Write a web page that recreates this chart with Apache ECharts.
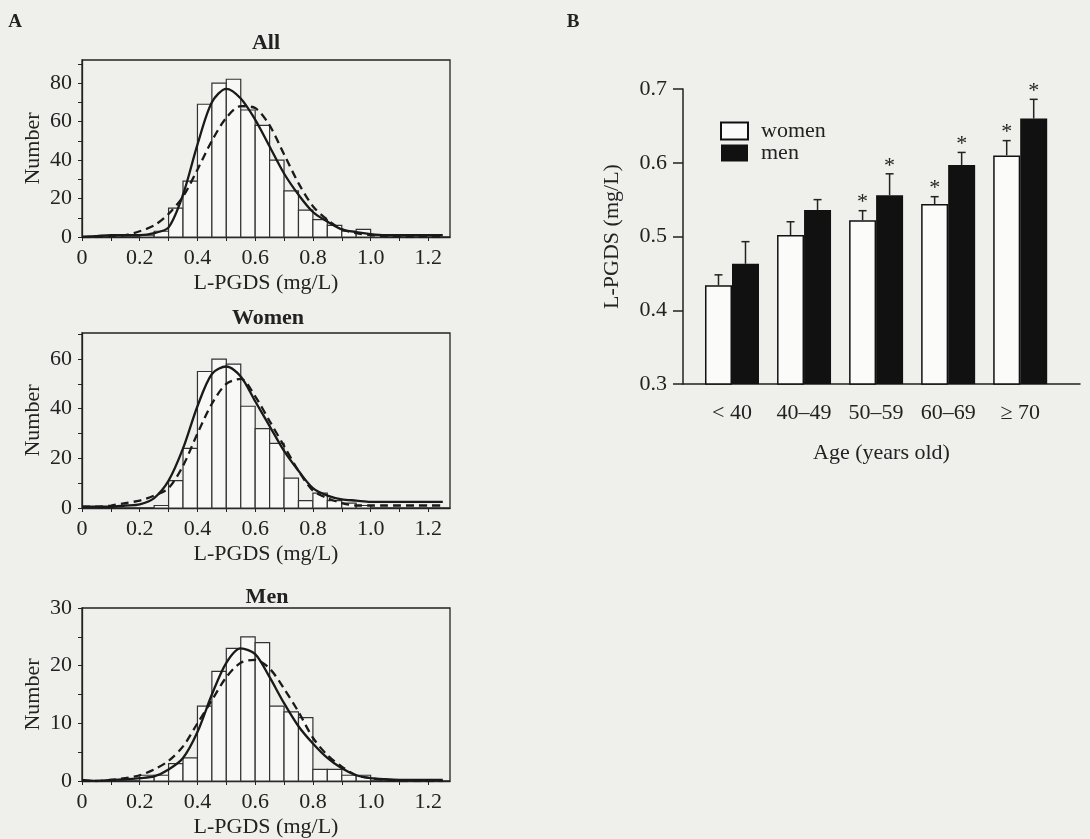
<!DOCTYPE html>
<html>
<head>
<meta charset="utf-8">
<script src="https://cdn.jsdelivr.net/npm/echarts@6/dist/echarts.min.js"></script>
<style>
  html, body { margin: 0; padding: 0; background: #efefeb; }
  #main { width: 1090px; height: 839px; }
</style>
</head>
<body>
<div id="main"></div>
<script>
// ---- panel A : histograms (bin left edges, bin width 0.05) ----
var binLeft = [0.10, 0.15, 0.20, 0.25, 0.30, 0.35, 0.40, 0.45, 0.50, 0.55,
               0.60, 0.65, 0.70, 0.75, 0.80, 0.85, 0.90, 0.95, 1.00];
var allCounts   = [0, 0, 1, 3, 15, 29, 69, 80, 82, 66, 58, 40, 24, 14, 9, 6, 3, 4, 1];
var womenCounts = [0, 0, 0, 1, 11, 24, 55, 60, 58, 41, 32, 26, 12, 3, 6, 3, 2, 1, 0];
var menCounts   = [0, 0, 1, 1, 3, 4, 13, 19, 23, 25, 24, 13, 12, 11, 2, 2, 1, 1, 0];

// fitted curves
var curveX = [0, 0.05, 0.10, 0.15, 0.20, 0.25, 0.30, 0.35, 0.40, 0.45, 0.50, 0.55, 0.60,
              0.65, 0.70, 0.75, 0.80, 0.85, 0.90, 0.95, 1.00, 1.05, 1.10, 1.15, 1.20, 1.25];
var allSolid    = [0, 0.5, 1, 1, 1, 2, 5, 22, 48, 70, 77, 72, 61, 47, 33, 22, 13, 8, 4, 2.5, 1.5, 1, 1, 1, 1, 1];
var allDashed   = [0, 0, 0.5, 1, 3, 6, 12, 21, 35, 50, 62, 68, 67, 58, 43, 28, 16, 9, 4, 2, 1, 0.5, 0, 0, 0, 0];
var womenSolid  = [0.5, 0.5, 0.5, 1, 1.5, 4, 11, 24, 41, 54, 57, 53, 43, 33, 23, 15, 8, 5, 3.5, 3, 2.5, 2.5, 2.5, 2.5, 2.5, 2.5];
var womenDashed = [0.5, 0.5, 1, 2, 3, 5, 8, 17, 30, 42, 50, 52, 45, 35, 25, 15, 7, 4, 2, 1, 1, 1, 1, 1, 1, 1];
var menSolid    = [0.2, 0, 0.2, 0.3, 0.5, 0.8, 2, 4, 8.5, 15, 20.5, 23, 22, 18, 13.5, 9.5, 6.5, 4, 2.2, 1, 0.5, 0.3, 0.2, 0.2, 0.2, 0.2];
var menDashed   = [0, 0, 0.2, 0.5, 1, 2, 3.5, 6, 10, 14, 18, 20.5, 21, 19.5, 16, 12, 7.5, 4.5, 2.5, 1, 0.5, 0.2, 0, 0, 0, 0];

var xTicks  = [0, 0.1, 0.2, 0.3, 0.4, 0.5, 0.6, 0.7, 0.8, 0.9, 1.0, 1.1, 1.2];
var xLabels = [0, 0.2, 0.4, 0.6, 0.8, 1.0, 1.2];
var allYTicks = [0, 10, 20, 30, 40, 50, 60, 70, 80, 90];
var allYLabels = [0, 20, 40, 60, 80];
var womenYTicks = [0, 10, 20, 30, 40, 50, 60, 70];
var womenYLabels = [0, 20, 40, 60];
var menYTicks = [0, 5, 10, 15, 20, 25, 30];
var menYLabels = [0, 10, 20, 30];

// ---- panel B : mean L-PGDS by age ----
var ageGroups = ['< 40', '40–49', '50–59', '60–69', '≥ 70'];
var ageSlots  = [1, 2, 3, 4, 5];
var womenMean = [0.434, 0.502, 0.522, 0.544, 0.610];
var womenSE   = [0.014, 0.018, 0.013, 0.010, 0.020];
var menMean   = [0.463, 0.536, 0.556, 0.597, 0.660];
var menSE     = [0.030, 0.014, 0.029, 0.017, 0.026];
var womenStar = [0, 0, 1, 1, 1];
var menStar   = [0, 0, 1, 1, 1];
var bYTicks   = [0.3, 0.4, 0.5, 0.6, 0.7];

var FONT = '"Liberation Serif", "Times New Roman", serif';
var INK = '#222';

var myChart = echarts.init(document.getElementById('main'), null, { renderer: 'canvas' });

function histX(i, top) {
    return {
        gridIndex: i, type: 'value', min: 0, max: 1.275,
        name: 'L-PGDS (mg/L)', nameLocation: 'middle', nameGap: 35,
        nameTextStyle: { fontFamily: FONT, fontSize: 22, color: INK },
        axisLine: { lineStyle: { color: INK, width: 1.3 } },
        axisTick: { customValues: xTicks, inside: false, length: 4, lineStyle: { color: INK } },
        axisLabel: {
            customValues: xLabels, margin: 10, fontFamily: FONT, fontSize: 22, color: INK,
            formatter: function (v) { return v === 0 ? '0' : v.toFixed(1); }
        },
        splitLine: { show: false }
    };
}
function histY(i, max, ticks, labels) {
    return {
        gridIndex: i, type: 'value', min: 0, max: max,
        name: 'Number', nameLocation: 'middle', nameGap: 38,
        nameTextStyle: { fontFamily: FONT, fontSize: 22, color: INK },
        axisLine: { lineStyle: { color: INK, width: 1.3 } },
        axisTick: { customValues: ticks, inside: false, length: 4, lineStyle: { color: INK } },
        axisLabel: { customValues: labels, margin: 10, fontFamily: FONT, fontSize: 22, color: INK },
        splitLine: { show: false }
    };
}
function histBars(i, counts) {
    return {
        type: 'custom', xAxisIndex: i, yAxisIndex: i, z: 2,
        data: binLeft.map(function (x, k) { return [x, counts[k]]; }),
        encode: { x: 0, y: 1 },
        renderItem: function (params, api) {
            var x0 = api.value(0), h = api.value(1);
            if (!h) return;
            var p0 = api.coord([x0, 0]);
            var p1 = api.coord([x0 + 0.05, h]);
            return {
                type: 'rect',
                shape: { x: p0[0], y: p1[1], width: p1[0] - p0[0], height: p0[1] - p1[1] },
                style: { fill: '#f8f8f6', stroke: '#333', lineWidth: 1.2 }
            };
        }
    };
}
function curve(i, vals, dashed) {
    return {
        type: 'line', xAxisIndex: i, yAxisIndex: i, z: 5,
        data: curveX.map(function (x, k) { return [x, vals[k]]; }),
        showSymbol: false, smooth: 0.3,
        lineStyle: { color: '#1a1a1a', width: 2.3, type: dashed ? [8, 5] : 'solid' }
    };
}
function errSeries(means, se, stars, side) {
    return {
        type: 'custom', xAxisIndex: 3, yAxisIndex: 3, z: 6,
        data: ageSlots.map(function (p, k) { return [p, means[k], means[k] + se[k], side, stars[k]]; }),
        encode: { x: 0, y: 2 },
        renderItem: function (params, api) {
            var b = api.coord([api.value(0), api.value(1)]);
            var t = api.coord([api.value(0), api.value(2)]);
            var x = b[0] + api.value(3) * 13.5;
            var kids = [
                { type: 'line', shape: { x1: x, y1: b[1], x2: x, y2: t[1] }, style: { stroke: INK, lineWidth: 1.5 } },
                { type: 'line', shape: { x1: x - 4, y1: t[1], x2: x + 4, y2: t[1] }, style: { stroke: INK, lineWidth: 1.5 } }
            ];
            if (api.value(4)) {
                kids.push({ type: 'text', x: x, y: t[1] - 8,
                    style: { text: '*', font: '22px ' + FONT, fill: INK, align: 'center', verticalAlign: 'middle' } });
            }
            return { type: 'group', children: kids };
        }
    };
}

var option = {
    backgroundColor: '#efefeb',
    animation: false,
    textStyle: { fontFamily: FONT },
    graphic: [
        { type: 'text', x: 15, y: 22, style: { text: 'A', font: 'bold 19px ' + FONT, fill: INK, align: 'center', verticalAlign: 'middle' } },
        { type: 'text', x: 573, y: 22, style: { text: 'B', font: 'bold 19px ' + FONT, fill: INK, align: 'center', verticalAlign: 'middle' } },
        { type: 'text', x: 266, y: 43, style: { text: 'All', font: 'bold 22px ' + FONT, fill: INK, align: 'center', verticalAlign: 'middle' } },
        { type: 'text', x: 268, y: 318, style: { text: 'Women', font: 'bold 22px ' + FONT, fill: INK, align: 'center', verticalAlign: 'middle' } },
        { type: 'text', x: 267, y: 597, style: { text: 'Men', font: 'bold 22px ' + FONT, fill: INK, align: 'center', verticalAlign: 'middle' } }
    ],
    legend: {
        data: ['women', 'men'], orient: 'vertical', left: 715, top: 115,
        itemWidth: 27, itemHeight: 17, itemGap: 0, icon: 'rect',
        textStyle: { fontFamily: FONT, fontSize: 22, color: INK, lineHeight: 22, padding: [0, 0, 0, 8] }
    },
    grid: [
        { left: 82, top: 60, width: 368, height: 177, show: true, borderColor: INK, borderWidth: 1.3, backgroundColor: 'transparent' },
        { left: 82, top: 333, width: 368, height: 175, show: true, borderColor: INK, borderWidth: 1.3, backgroundColor: 'transparent' },
        { left: 82, top: 608, width: 368, height: 175, show: true, borderColor: INK, borderWidth: 1.3, backgroundColor: 'transparent' },
        { left: 683, right: 10, top: 89, bottom: 455 }
    ],
    xAxis: [
        histX(0), histX(1), histX(2),
        {
            gridIndex: 3, type: 'value', min: 0.32, max: 5.83,
            name: 'Age (years old)', nameLocation: 'middle', nameGap: 58,
            nameTextStyle: { fontFamily: FONT, fontSize: 22, color: INK },
            axisLine: { lineStyle: { color: INK, width: 1.5 } },
            axisTick: { show: false },
            axisLabel: {
                customValues: ageSlots, margin: 18, fontFamily: FONT, fontSize: 22, color: INK,
                formatter: function (v) { return ageGroups[Math.round(v) - 1]; }
            },
            splitLine: { show: false }
        }
    ],
    yAxis: [
        histY(0, 92, allYTicks, allYLabels),
        histY(1, 70.5, womenYTicks, womenYLabels),
        histY(2, 30, menYTicks, menYLabels),
        {
            gridIndex: 3, type: 'value', min: 0.3, max: 0.7,
            name: 'L-PGDS (mg/L)', nameLocation: 'middle', nameGap: 60,
            nameTextStyle: { fontFamily: FONT, fontSize: 22, color: INK },
            axisLine: { show: true, lineStyle: { color: INK, width: 1.5 } },
            axisTick: { show: true, customValues: bYTicks, length: 10, lineStyle: { color: INK, width: 1.5 } },
            axisLabel: {
                customValues: bYTicks, margin: 16, fontFamily: FONT, fontSize: 22, color: INK,
                formatter: function (v) { return v.toFixed(1); }
            },
            splitLine: { show: false }
        }
    ],
    series: [
        histBars(0, allCounts), curve(0, allSolid, false), curve(0, allDashed, true),
        histBars(1, womenCounts), curve(1, womenSolid, false), curve(1, womenDashed, true),
        histBars(2, menCounts), curve(2, menSolid, false), curve(2, menDashed, true),
        {
            name: 'women', type: 'bar', xAxisIndex: 3, yAxisIndex: 3,
            data: ageSlots.map(function (p, k) { return [p, womenMean[k]]; }),
            barWidth: 27, barGap: '0%',
            itemStyle: { color: '#fbfbf9', borderColor: '#111', borderWidth: 1.5 }
        },
        {
            name: 'men', type: 'bar', xAxisIndex: 3, yAxisIndex: 3,
            data: ageSlots.map(function (p, k) { return [p, menMean[k]]; }),
            barWidth: 27, barGap: '0%',
            itemStyle: { color: '#111' }
        },
        errSeries(womenMean, womenSE, womenStar, -1),
        errSeries(menMean, menSE, menStar, 1)
    ]
};

myChart.setOption(option);
</script>
</body>
</html>
